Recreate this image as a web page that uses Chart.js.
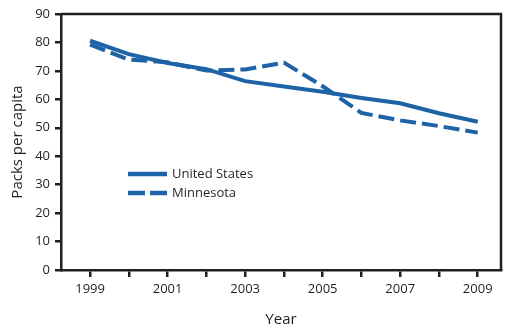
<!DOCTYPE html>
<html>
<head>
<meta charset="utf-8">
<script src="https://cdn.jsdelivr.net/npm/chart.js@4"></script>
<style>
  html, body { margin: 0; padding: 0; background: #fff; }
  #wrap { width: 522px; height: 336px; position: relative; }
</style>
</head>
<body>
<div id="wrap"><canvas id="c" width="522" height="336"></canvas></div>
<script>
const years = [1999, 2000, 2001, 2002, 2003, 2004, 2005, 2006, 2007, 2008, 2009];
const unitedStates = [80.6, 75.9, 72.8, 70.6, 66.4, 64.5, 62.7, 60.5, 58.6, 55.1, 52.1];
const minnesota = [79.2, 74.0, 73.0, 70.1, 70.5, 72.9, 64.6, 55.2, 52.6, 50.6, 48.3];
const yTicks = [0, 10, 20, 30, 40, 50, 60, 70, 80, 90];
const xLabelYears = [1999, 2001, 2003, 2005, 2007, 2009];

const blue = '#1d63a6';
const ink = '#231f20';
const font = "'Open Sans', 'Noto Sans', sans-serif";

const frame = {
  id: 'frame',
  afterDraw(chart) {
    const {ctx, chartArea: a} = chart;
    ctx.save();
    ctx.strokeStyle = ink;
    ctx.lineWidth = 2.5;
    ctx.beginPath();
    ctx.moveTo(a.left, a.top);
    ctx.lineTo(a.right, a.top);
    ctx.lineTo(a.right, a.bottom);
    ctx.stroke();
    ctx.restore();
  }
};

const legendBox = {
  id: 'legendBox',
  afterDraw(chart) {
    const {ctx} = chart;
    ctx.save();
    chart.data.datasets.forEach((ds, i) => {
      const y = 174 + i * 19;
      ctx.strokeStyle = ds.borderColor;
      ctx.lineWidth = 4.5;
      ctx.setLineDash(ds.borderDash && ds.borderDash.length ? [17, 5] : []);
      ctx.beginPath();
      ctx.moveTo(128, y);
      ctx.lineTo(167, y);
      ctx.stroke();
      ctx.setLineDash([]);
      ctx.fillStyle = ink;
      ctx.font = "13px " + font;
      ctx.textBaseline = 'middle';
      ctx.textAlign = 'left';
      ctx.fillText(ds.label, 172, y);
    });
    ctx.restore();
  }
};

new Chart(document.getElementById('c'), {
  type: 'line',
  data: {
    datasets: [
      {
        label: 'United States',
        data: years.map((x, i) => ({x, y: unitedStates[i]})),
        borderColor: blue,
        borderWidth: 4,
        pointRadius: 0,
        tension: 0,
        fill: false
      },
      {
        label: 'Minnesota',
        data: years.map((x, i) => ({x, y: minnesota[i]})),
        borderColor: blue,
        borderWidth: 4,
        borderDash: [16, 6],
        pointRadius: 0,
        tension: 0,
        fill: false
      }
    ]
  },
  options: {
    responsive: false,
    animation: false,
    devicePixelRatio: 1,
    layout: { padding: { top: 14, right: 21, left: 0, bottom: 0 } },
    plugins: { legend: { display: false }, tooltip: { enabled: false } },
    scales: {
      x: {
        type: 'linear',
        min: 1998.25,
        max: 2009.6,
        afterBuildTicks: s => { s.ticks = years.map(v => ({value: v})); },
        afterFit: s => { s.height = 66; },
        grid: { drawOnChartArea: false, drawTicks: true, tickLength: 7, color: ink, lineWidth: 2.5 },
        border: { display: true, color: ink, width: 2.5 },
        ticks: {
          autoSkip: false, maxRotation: 0, padding: 4,
          color: ink, font: { family: font, size: 13 },
          callback: v => xLabelYears.includes(v) ? String(v) : ''
        },
        title: { display: true, text: 'Year', color: ink, font: { family: font, size: 15 }, padding: { top: 0, bottom: 7 } }
      },
      y: {
        type: 'linear',
        min: 0,
        max: 90,
        afterBuildTicks: s => { s.ticks = yTicks.map(v => ({value: v})); },
        afterFit: s => { s.width = 61; },
        grid: { drawOnChartArea: false, drawTicks: true, tickLength: 6, color: ink, lineWidth: 2.5 },
        border: { display: true, color: ink, width: 2.5 },
        ticks: { padding: 5, color: ink, font: { family: font, size: 13 } },
        title: { display: true, text: 'Packs per capita', color: ink, font: { family: font, size: 15 }, padding: { top: 9, bottom: 0 } }
      }
    }
  },
  plugins: [frame, legendBox]
});
</script>
</body>
</html>
